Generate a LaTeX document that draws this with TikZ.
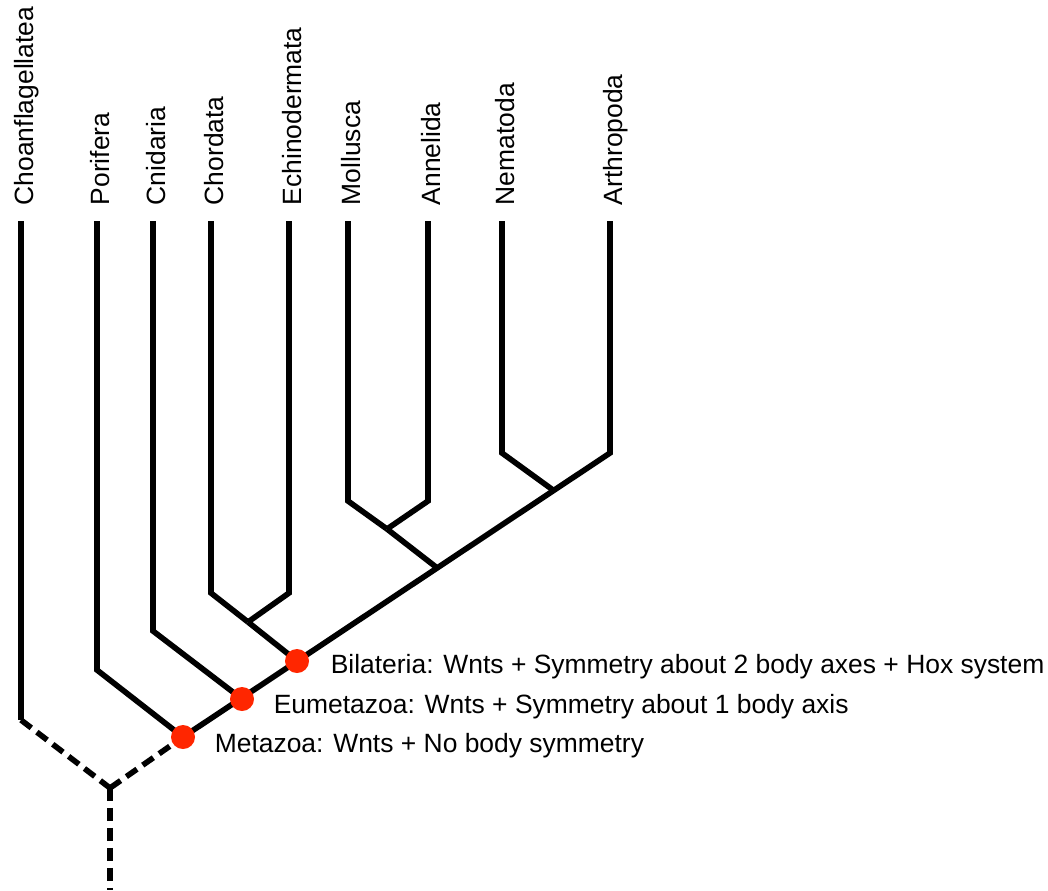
\documentclass[tikz,border=0pt]{standalone}
\usepackage{fontspec}
\setmainfont{Liberation Sans}
\definecolor{eventred}{RGB}{255,38,0}
\begin{document}
\begin{tikzpicture}[x=0.025cm,y=-0.025cm,line width=4pt,line join=miter,
    taxon/.style={rotate=90,anchor=base west,inner sep=0pt,font=\fontsize{18.8}{22}\selectfont},
    trait/.style={anchor=base west,inner sep=0pt,font=\fontsize{18.8}{22}\selectfont},
    event/.style={circle,fill=eventred,inner sep=0pt,minimum size=0.6cm},
    stem/.style={dash pattern=on 9.2pt off 5pt}]
  \useasboundingbox (0,0) rectangle (1048,890);
  \path
    (21,221) coordinate (choT)
    (97,221) coordinate (porT)
    (153,221) coordinate (cniT)
    (211,221) coordinate (chdT)
    (289,221) coordinate (echT)
    (348,221) coordinate (molT)
    (428,221) coordinate (annT)
    (502,221) coordinate (nemT)
    (610,221) coordinate (artT)
    (21,720) coordinate (choB)
    (97,670) coordinate (porB)
    (153,631) coordinate (cniB)
    (211,593) coordinate (chdB)
    (289,593) coordinate (echB)
    (348,501) coordinate (molB)
    (428,501) coordinate (annB)
    (502,453) coordinate (nemB)
    (610,453) coordinate (artB)
    (248,622) coordinate (deu)
    (387,529) coordinate (lop)
    (553,490) coordinate (ecd)
    (436,567) coordinate (pro)
    (110,788) coordinate (root)
    (110,890) coordinate (base);
  \path
    (33,208) node[taxon] (cho){Choanflagellatea}
    (109,208) node[taxon] (por){Porifera}
    (165,208) node[taxon] (cni){Cnidaria}
    (223,208) node[taxon] (chd){Chordata}
    (301,208) node[taxon] (ech){Echinodermata}
    (360,208) node[taxon] (mol){Mollusca}
    (440,208) node[taxon] (ann){Annelida}
    (514,208) node[taxon] (nem){Nematoda}
    (622,208) node[taxon] (art){Arthropoda};
  \begin{scope}[stem]
    \draw (choB) -- (root);
    \draw (root) -- (base);
    \draw (root) -- (183,737) coordinate (meta);
  \end{scope}
  \draw (choT) -- (choB);
  \draw (porT) -- (porB) -- (meta);
  \draw (cniT) -- (cniB) -- (242,699) coordinate (eume);
  \draw (chdT) -- (chdB) -- (deu);
  \draw (echT) -- (echB) -- (deu);
  \draw (deu) -- (297,661) coordinate (bila);
  \draw (molT) -- (molB) -- (lop);
  \draw (annT) -- (annB) -- (lop);
  \draw (lop) -- (pro);
  \draw (nemT) -- (nemB) -- (ecd);
  \draw (artT) -- (artB) -- (meta);
  \node[event] (metaDot) at (meta) {};
  \node[event] (eumeDot) at (eume) {};
  \node[event] (bilaDot) at (bila) {};
  \node[trait] (metaText) at (212,752) {Metazoa: Wnts + No body symmetry};
  \node[trait] (eumeText) at (271,713) {Eumetazoa: Wnts + Symmetry about 1 body axis};
  \node[trait] (bilaText) at (328,673) {Bilateria: Wnts + Symmetry about 2 body axes + Hox system};
\end{tikzpicture}
\end{document}
